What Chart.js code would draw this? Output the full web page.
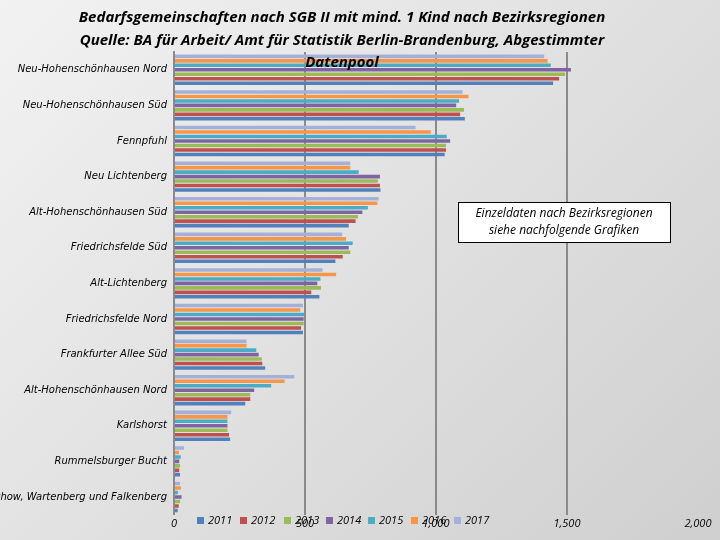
<!DOCTYPE html>
<html><head><meta charset="utf-8">
<script src="https://cdn.jsdelivr.net/npm/chart.js@4"></script>
<style>html,body{margin:0;padding:0;}body{width:720px;height:540px;background:linear-gradient(135deg,#f2f2f2,#cfcfcf);}#c{display:block}</style>
</head><body><canvas id="c" width="720" height="540"></canvas>
<script>
const categories = ["Neu-Hohenschönhausen Nord","Neu-Hohenschönhausen Süd","Fennpfuhl","Neu Lichtenberg","Alt-Hohenschönhausen Süd","Friedrichsfelde Süd","Alt-Lichtenberg","Friedrichsfelde Nord","Frankfurter Allee Süd","Alt-Hohenschönhausen Nord","Karlshorst","Rummelsburger Bucht","Malchow, Wartenberg und Falkenberg"];
const years = ["2011","2012","2013","2014","2015","2016","2017"];
const v2011 = [1447,1110,1033,788,667,616,555,492,348,272,214,23,14];
const v2012 = [1470,1092,1038,786,693,644,524,485,337,291,210,20,18];
const v2013 = [1493,1107,1038,778,702,673,561,495,335,291,204,23,23];
const v2014 = [1515,1077,1054,786,719,667,547,495,323,306,204,20,29];
const v2015 = [1438,1088,1041,705,740,682,559,497,314,371,204,26,15];
const v2016 = [1426,1124,980,673,776,657,619,482,277,422,204,19,26];
const v2017 = [1413,1101,922,673,781,642,567,492,277,459,218,38,23];
const xTicks = [0,500,1000,1500,2000];
const colors = ["#4F81BD","#C0504D","#9BBB59","#8064A2","#4BACC6","#F79646","#A3B1D8"];
const series = [v2011,v2012,v2013,v2014,v2015,v2016,v2017];
const datasets = years.map((y,i)=>({label:y,data:series[i],backgroundColor:colors[i],categoryPercentage:0.88,barPercentage:0.8})).reverse();
const F = "'Open Sans', 'DejaVu Sans', sans-serif";
const deco = {id:'deco',afterDraw(ch){
  const c=ch.ctx;c.save();
  c.fillStyle='#000';c.textAlign='center';c.textBaseline='middle';
  c.font="italic bold 15px "+F;
  c.fillText("Bedarfsgemeinschaften nach SGB II mit mind. 1 Kind nach Bezirksregionen",342,18);
  c.fillText("Quelle: BA für Arbeit/ Amt für Statistik Berlin-Brandenburg, Abgestimmter",342,41);
  c.fillText("Datenpool",342,63);
  c.fillStyle='#fff';c.fillRect(458,202,212,40);c.strokeStyle='#000';c.lineWidth=1;c.strokeRect(458.5,202.5,212,40);
  c.fillStyle='#000';c.font="italic 12px "+F;
  c.fillText("Einzeldaten nach Bezirksregionen",564,214);c.fillText("siehe nachfolgende Grafiken",564,231);
  c.font="italic 11px "+F;c.textAlign='left';
  const lx=[197,240,284,326,368,411,454];
  years.forEach((y,i)=>{c.fillStyle=colors[i];c.fillRect(lx[i],517,7,7);c.fillStyle='#000';c.fillText(y,lx[i]+11,521);});
  c.restore();}};
new Chart(document.getElementById('c'),{type:'bar',data:{labels:categories,datasets},
 plugins:[deco],
 options:{indexAxis:'y',responsive:false,animation:false,
  layout:{padding:{top:52,right:22,bottom:8,left:0}},
  plugins:{legend:{display:false},title:{display:false},tooltip:{enabled:false}},
  scales:{
   x:{min:0,max:2000,afterBuildTicks(s){s.ticks=xTicks.map(v=>({value:v}));},
    ticks:{color:'#000',font:{family:F,style:'italic',size:11},callback:v=>v.toLocaleString('en-US'),padding:2},
    grid:{color:c=>(c.tick.value===0||c.tick.value===2000)?'rgba(0,0,0,0)':'#8a8a8a',lineWidth:2,drawTicks:false},border:{display:false}},
   y:{afterFit(s){s.width=174;},ticks:{color:'#000',font:{family:"'DejaVu Sans', sans-serif",style:'italic',size:10},padding:2,autoSkip:false},
    grid:{display:false,drawTicks:true,tickLength:5},border:{color:'#8a8a8a',width:2}}
  }}});
</script></body></html>
